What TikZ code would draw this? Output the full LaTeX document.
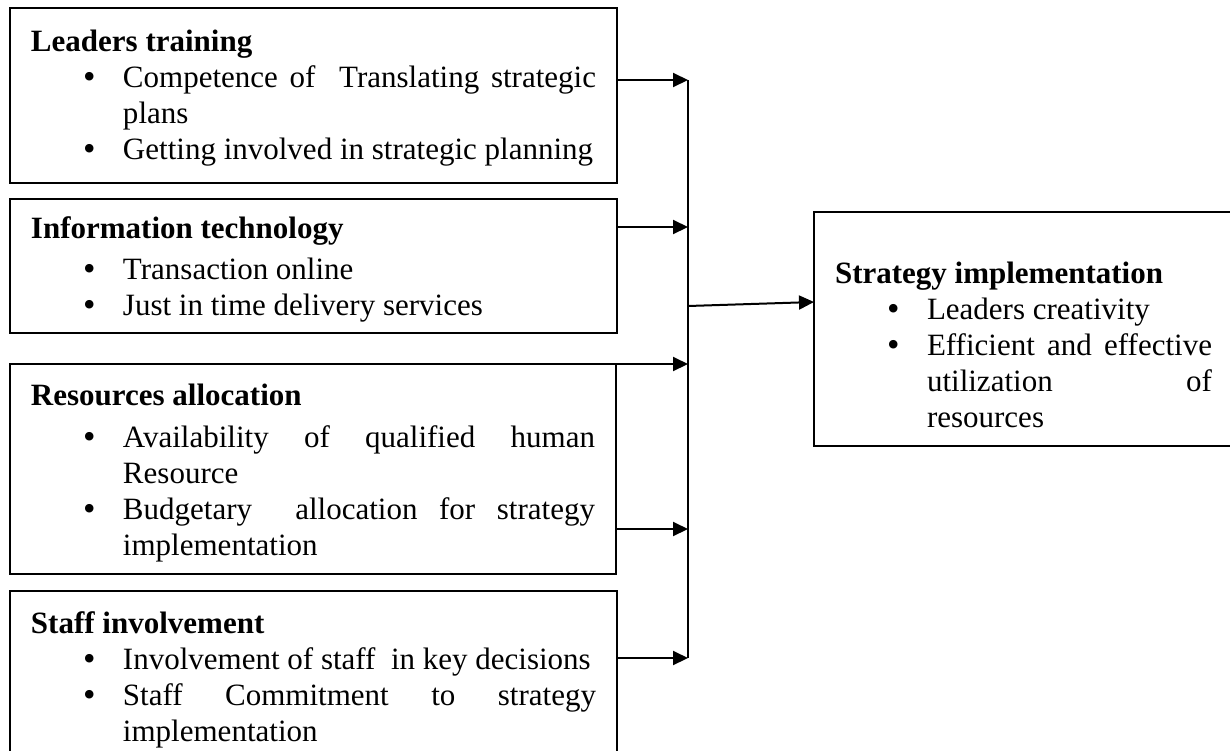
\documentclass[tikz,border=0pt]{standalone}
\usepackage{fontspec}
\setmainfont{Liberation Serif}
\usetikzlibrary{arrows.meta}

% body of a framed panel: fixed width and height, text set from the top
\newcommand\panelbody[3]{%
  \begin{minipage}[c][#2][t]{#1}%
    \fontsize{15.5pt}{18pt}\selectfont
    \parindent=0pt \parskip=0pt
    \hyphenpenalty=10000 \exhyphenpenalty=10000 \tolerance=10000
    #3%
  \end{minipage}}
% bold heading; #1 puts its baseline below the top edge, #3 is the gap below it
\newcommand\paneltitle[3]{\noindent\rule{0pt}{#1}\textbf{#2}\par\vspace{#3}}
% bulleted entry with hanging indent
\newcommand\point[1]{{\leftskip=46pt\noindent\llap{\makebox[20pt][l]{\raisebox{-0.5pt}{\scalebox{1.15}{•}}}}#1\par}}

\tikzset{
  panel/.style={draw, line width=1pt, inner xsep=10.5pt, inner ysep=0pt,
    outer sep=0pt, anchor=north west},
  link/.style={line width=1pt, -{Triangle[length=7.5pt, width=7pt]}},
  rail/.style={line width=1pt}
}

\begin{document}
\begin{tikzpicture}[x=0.5pt, y=-0.5pt]
\useasboundingbox (0,0) rectangle (1230,750);
\clip (0,0) rectangle (1230,750);

\node[panel] (b1) at (10,8) {\panelbody{282.5pt}{87.5pt}{%
  \paneltitle{21.5pt}{Leaders training}{0pt}
  \point{Competence of\ \ Translating strategic\linebreak plans}
  \point{Getting involved in strategic planning}}};

\node[panel] (b2) at (10,199) {\panelbody{282.5pt}{67pt}{%
  \paneltitle{19.5pt}{Information technology}{2.5pt}
  \point{Transaction online}
  \point{Just in time delivery services}}};

\node[panel] (b3) at (10,364) {\panelbody{282pt}{105pt}{%
  \paneltitle{20.5pt}{Resources allocation}{3pt}
  \point{Availability of qualified human\linebreak Resource}
  \point{Budgetary\ \ allocation for strategy\linebreak implementation}}};

\node[panel] (b4) at (10,591) {\panelbody{282.5pt}{100pt}{%
  \paneltitle{21pt}{Staff involvement}{0pt}
  \point{Involvement of staff\ \ in key decisions}
  \point{Staff Commitment to strategy\linebreak implementation}}};

\node[panel] (b5) at (814,212) {\panelbody{188.5pt}{117pt}{%
  \paneltitle{35.5pt}{Strategy implementation}{0pt}
  \point{Leaders creativity}
  \point{Efficient and effective utilization of\linebreak resources}}};

% junction points on the collecting rail
\coordinate (j1) at (688,80);
\coordinate (j2) at (688,227);
\coordinate (j3) at (688,364);
\coordinate (j4) at (688,529);
\coordinate (j5) at (688,658);
\coordinate (jo) at (688,306);

\draw[rail] (j1) -- (j5);
\draw[link] (j1 -| b1.east) -- (j1);
\draw[link] (j2 -| b2.east) -- (j2);
\draw[link] (j3 -| b3.east) -- (j3);
\draw[link] (j4 -| b3.east) -- (j4);
\draw[link] (j5 -| b4.east) -- (j5);
\draw[link] (jo) -- ([yshift=13.5pt]b5.west);
\end{tikzpicture}
\end{document}
